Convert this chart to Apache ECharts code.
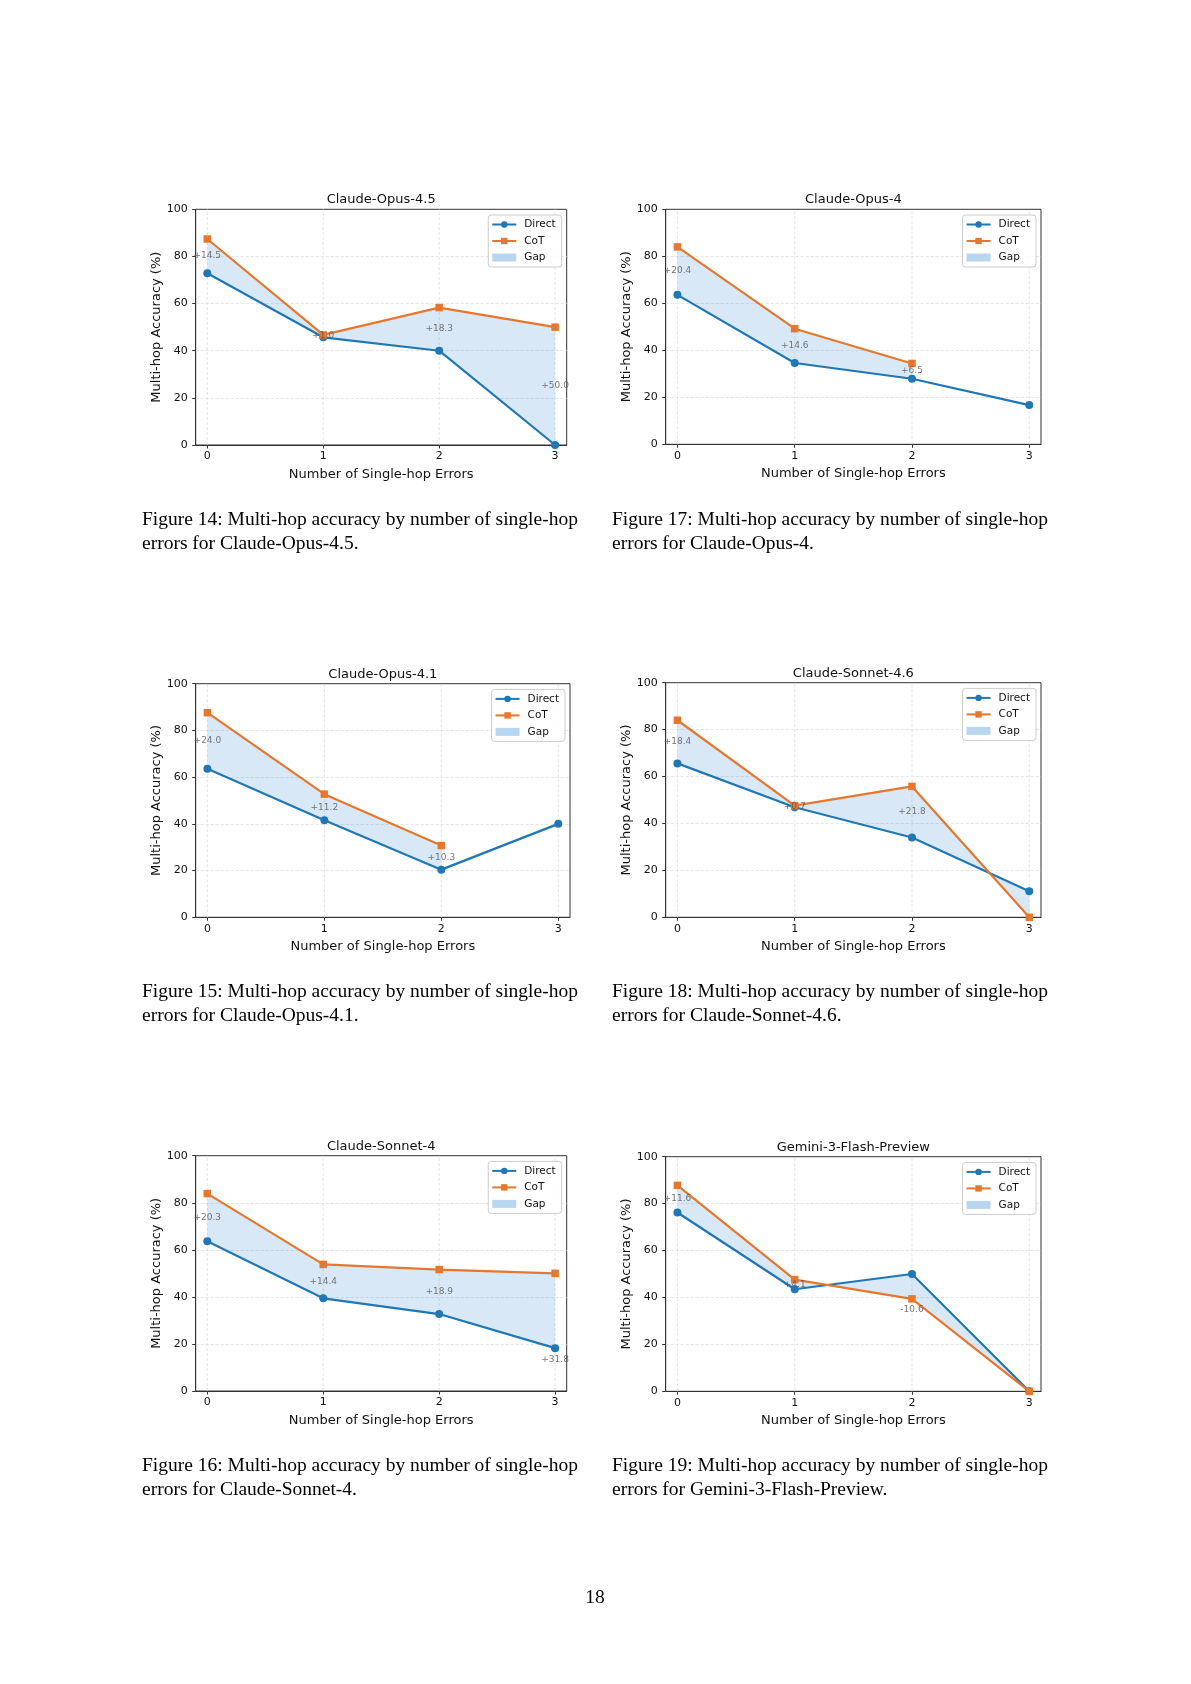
<!DOCTYPE html>
<html>
<head>
<meta charset="utf-8">
<script src="https://cdn.jsdelivr.net/npm/echarts@6.0.0/dist/echarts.min.js"></script>
<style>
  html, body { margin: 0; padding: 0; background: #fff; }
  #page { width: 1191px; height: 1684px; }
</style>
</head>
<body>
<div id="page"></div>
<script>
// x values: number of single-hop errors
const errorCounts = [0, 1, 2, 3];

const modelNames = ['Claude-Opus-4.5', 'Claude-Opus-4', 'Claude-Opus-4.1',
                    'Claude-Sonnet-4.6', 'Claude-Sonnet-4', 'Gemini-3-Flash-Preview'];
const figureNumbers = [14, 17, 15, 18, 16, 19];

const opus45Direct = [72.9, 45.7, 40.0, 0.0];
const opus45Cot    = [87.4, 46.7, 58.3, 50.0];
const opus45Gap    = ['+14.5', '+1.0', '+18.3', '+50.0'];

const opus4Direct = [63.6, 34.6, 27.9, 16.7];
const opus4Cot    = [84.0, 49.2, 34.4, null];
const opus4Gap    = ['+20.4', '+14.6', '+6.5', null];

const opus41Direct = [63.6, 41.5, 20.4, 40.0];
const opus41Cot    = [87.6, 52.7, 30.7, null];
const opus41Gap    = ['+24.0', '+11.2', '+10.3', null];

const sonnet46Direct = [65.6, 46.9, 34.0, 11.1];
const sonnet46Cot    = [84.0, 47.6, 55.8, 0.0];
const sonnet46Gap    = ['+18.4', '+0.7', '+21.8', null];

const sonnet4Direct = [63.6, 39.4, 32.7, 18.2];
const sonnet4Cot    = [83.9, 53.8, 51.6, 50.0];
const sonnet4Gap    = ['+20.3', '+14.4', '+18.9', '+31.8'];

const gemini3Direct = [76.2, 43.5, 50.0, 0.0];
const gemini3Cot    = [87.8, 47.6, 39.4, 0.0];
const gemini3Gap    = ['+11.6', '+4.1', '-10.6', null];

// gap labels that sit under the lower point instead of midway: [panel, point]
const gapLabelsBelow = [[4, 3], [5, 2]];

const panelDirect = [opus45Direct, opus4Direct, opus41Direct, sonnet46Direct, sonnet4Direct, gemini3Direct];
const panelCot = [opus45Cot, opus4Cot, opus41Cot, sonnet46Cot, sonnet4Cot, gemini3Cot];
const panelGap = [opus45Gap, opus4Gap, opus41Gap, sonnet46Gap, sonnet4Gap, gemini3Gap];

// layout (page pixels): plot box [left, top, right, bottom]
const plotRects = [
  [195.7, 209.3, 566.7, 445.0],
  [665.7, 209.3, 1041.0, 444.3],
  [195.7, 683.7, 570.0, 917.3],
  [665.7, 682.7, 1041.0, 917.3],
  [195.7, 1155.7, 566.7, 1391.0],
  [665.7, 1156.7, 1041.0, 1391.3]
];
const pageW = 1191;
const captionX = [142, 612];
const captionY = [519.5, 992, 1465.5];

const blue = '#1f77b4';
const orange = '#e8772e';
const gapFill = 'rgba(30,120,200,0.17)';
const gapLegend = '#b8d6ef';
const font = 'DejaVu Sans';
const ink = '#111';
const frame = '#333';

function gridLine() {
  return { type: [3, 2], color: '#dedede', width: 0.8 };
}

const chart = echarts.init(document.getElementById('page'), null, { renderer: 'canvas' });

const grids = [], xAxes = [], yAxes = [], legends = [], series = [], graphics = [];

plotRects.forEach(function (r, i) {
  const [L, T, R, B] = r;
  const direct = panelDirect[i], cot = panelCot[i], gap = panelGap[i];

  grids.push({
    left: L, top: T, width: R - L, height: B - T,
    show: true, borderColor: frame, borderWidth: 1,
    backgroundColor: 'transparent', outerBoundsMode: 'none'
  });

  xAxes.push({
    gridIndex: i, type: 'value', min: -0.1, max: 3.1,
    axisLine: { show: true, onZero: false, lineStyle: { color: frame, width: 1 } },
    axisTick: { show: true, length: 3.5, lineStyle: { color: frame }, customValues: errorCounts },
    axisLabel: { customValues: errorCounts, margin: 6, fontSize: 11, color: ink, fontFamily: font },
    splitLine: { show: false },
    name: 'Number of Single-hop Errors', nameLocation: 'middle', nameGap: 23,
    nameTextStyle: { fontSize: 13, color: ink, fontFamily: font }
  });

  yAxes.push({
    gridIndex: i, type: 'value', min: 0, max: 100, interval: 20,
    axisLine: { show: true, onZero: false, lineStyle: { color: frame, width: 1 } },
    axisTick: { show: true, length: 3.5, lineStyle: { color: frame } },
    axisLabel: { margin: 8, fontSize: 11, color: ink, fontFamily: font },
    splitLine: { show: true, showMinLine: false, showMaxLine: false, lineStyle: gridLine() },
    name: 'Multi-hop Accuracy (%)', nameLocation: 'middle', nameGap: 33,
    nameTextStyle: { fontSize: 13, color: ink, fontFamily: font }
  });

  legends.push({
    orient: 'vertical', right: pageW - (R - 5), top: T + 5.7,
    backgroundColor: 'rgba(255,255,255,0.85)', borderColor: '#cccccc', borderWidth: 1, borderRadius: 3,
    padding: [4, 6, 4, 3], itemGap: 5.5, itemWidth: 24, itemHeight: 8,
    selectedMode: false,
    textStyle: { fontSize: 10.5, color: ink, fontFamily: font, padding: [0, 0, 0, 3] },
    data: ['Direct', 'CoT', { name: 'Gap', icon: 'rect', itemStyle: { color: gapLegend } }]
  });

  // vertical dashed grid lines at the x ticks, under everything else
  series.push({
    type: 'custom', name: 'xgrid' + i, xAxisIndex: i, yAxisIndex: i, z: 1, silent: true,
    data: errorCounts.map(x => [x, 0]),
    renderItem: function (params, api) {
      const p0 = api.coord([api.value(0), 0]);
      const p1 = api.coord([api.value(0), 100]);
      return { type: 'line', shape: { x1: p0[0], y1: p0[1], x2: p1[0], y2: p1[1] },
               style: { stroke: '#dedede', lineWidth: 0.8, lineDash: [3, 2] } };
    }
  });

  // shaded gap between the two curves
  series.push({
    type: 'custom', name: 'Gap', xAxisIndex: i, yAxisIndex: i, z: 2, silent: true,
    itemStyle: { color: gapLegend },
    data: [[0, 0]],
    renderItem: function (params, api) {
      const idx = errorCounts.map((x, j) => j).filter(j => cot[j] != null && direct[j] != null);
      const top = idx.map(j => api.coord([errorCounts[j], cot[j]]));
      const bottom = idx.slice().reverse().map(j => api.coord([errorCounts[j], direct[j]]));
      return { type: 'polygon', shape: { points: top.concat(bottom) }, style: { fill: gapFill } };
    }
  });

  series.push({
    type: 'line', name: 'Direct', xAxisIndex: i, yAxisIndex: i, z: 4,
    symbol: 'circle', symbolSize: 8,
    itemStyle: { color: blue, borderWidth: 0 }, lineStyle: { color: blue, width: 2.2 },
    data: errorCounts.map((x, j) => [x, direct[j]]).filter(p => p[1] != null)
  });

  series.push({
    type: 'line', name: 'CoT', xAxisIndex: i, yAxisIndex: i, z: 4,
    symbol: 'rect', symbolSize: 7.5,
    itemStyle: { color: orange, borderWidth: 0 }, lineStyle: { color: orange, width: 2.2 },
    data: errorCounts.map((x, j) => [x, cot[j]]).filter(p => p[1] != null)
  });

  // gap annotations
  const labelData = [];
  errorCounts.forEach(function (x, j) {
    if (gap[j] == null) return;
    const below = gapLabelsBelow.some(b => b[0] === i && b[1] === j);
    const y = below ? Math.min(direct[j], cot[j]) : (direct[j] + cot[j]) / 2;
    labelData.push({ name: gap[j], value: [x, y], label: { offset: [0, below ? 11 : 0] } });
  });
  series.push({
    type: 'scatter', name: 'gapText' + i, xAxisIndex: i, yAxisIndex: i, z: 6, silent: true,
    symbol: 'circle', symbolSize: 1, itemStyle: { color: 'transparent' },
    label: { show: true, position: 'inside', formatter: '{b}', fontSize: 9, color: '#555', fontFamily: font },
    data: labelData
  });

  // panel title
  graphics.push({
    type: 'text', x: (L + R) / 2, y: T - 9.5,
    style: { text: modelNames[i], fontSize: 13, fontFamily: font, fill: ink, align: 'center', verticalAlign: 'middle' }
  });

  // caption under the panel
  const col = i % 2, row = Math.floor(i / 2);
  graphics.push({
    type: 'text', x: captionX[col], y: captionY[row],
    style: { text: 'Figure ' + figureNumbers[i] + ': Multi-hop accuracy by number of single-hop',
             fontSize: 19.5, fontFamily: 'Liberation Serif', fill: '#000', align: 'left', verticalAlign: 'middle' }
  });
  graphics.push({
    type: 'text', x: captionX[col], y: captionY[row] + 24,
    style: { text: 'errors for ' + modelNames[i] + '.',
             fontSize: 19.5, fontFamily: 'Liberation Serif', fill: '#000', align: 'left', verticalAlign: 'middle' }
  });
});

graphics.push({
  type: 'text', x: 595, y: 1598,
  style: { text: '18', fontSize: 19.5, fontFamily: 'Liberation Serif', fill: '#000', align: 'center', verticalAlign: 'middle' }
});

chart.setOption({
  animation: false,
  backgroundColor: '#fff',
  textStyle: { fontFamily: font },
  grid: grids,
  xAxis: xAxes,
  yAxis: yAxes,
  legend: legends,
  series: series,
  graphic: graphics
});
</script>
</body>
</html>
